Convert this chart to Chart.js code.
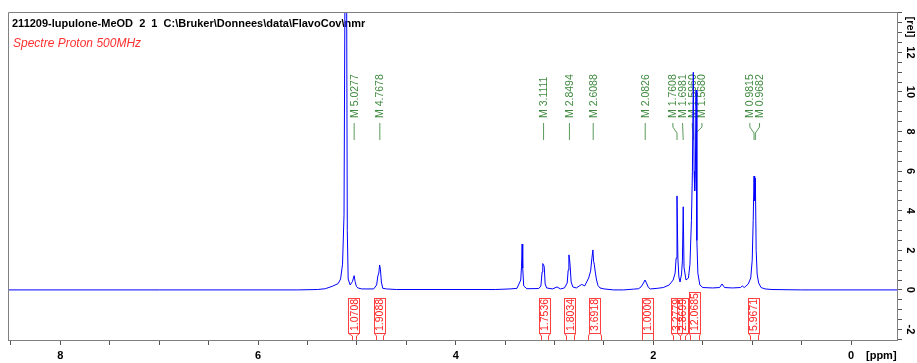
<!DOCTYPE html>
<html>
<head>
<meta charset="utf-8">
<script src="https://cdn.jsdelivr.net/npm/chart.js@4.4.1/dist/chart.umd.min.js"></script>
<style>
  html, body { margin: 0; padding: 0; background: #fff; }
  #wrap { width: 917px; height: 363px; position: relative; }
</style>
</head>
<body>
<div id="wrap"><canvas id="nmr"></canvas></div>
<script>
// spectrum (ppm, rel. intensity)
const shifts = [8.53, 7.0, 5.60, 5.40, 5.32, 5.25, 5.19, 5.165, 5.145, 5.13, 5.12, 5.112, 5.104, 5.097, 5.088,
    5.068, 5.045, 5.028, 5.018, 5.005, 4.99, 4.95, 4.83, 4.80, 4.788, 4.778, 4.770, 4.762, 4.752, 4.738,
    4.70, 4.60, 3.60, 3.45, 3.38, 3.342, 3.334, 3.328, 3.322, 3.312, 3.28, 3.16, 3.138, 3.126, 3.119,
    3.111, 3.104, 3.095, 3.08, 3.02, 2.975, 2.94, 2.90, 2.872, 2.862, 2.855, 2.849, 2.842, 2.832, 2.815,
    2.78, 2.725, 2.695, 2.675, 2.655, 2.635, 2.622, 2.612, 2.605, 2.598, 2.588, 2.575, 2.56, 2.54, 2.50,
    2.40, 2.30, 2.20, 2.15, 2.125, 2.10, 2.085, 2.07, 2.05, 2.03, 1.96, 1.90, 1.84, 1.80, 1.78,
    1.770, 1.761, 1.752, 1.742, 1.730, 1.715, 1.706, 1.698, 1.690, 1.670, 1.645, 1.630, 1.615, 1.605, 1.596,
    1.588, 1.582, 1.575, 1.568, 1.560, 1.550, 1.530, 1.50, 1.40, 1.33, 1.305, 1.28, 1.20, 1.12, 1.10,
    1.08, 1.04, 1.015, 1.000, 0.990, 0.9815, 0.975, 0.9682, 0.960, 0.950, 0.935, 0.91, 0.87, 0.80, 0.50, -0.465];
const intensities = [0, 0, 0, 0.02, 0.06, 0.18, 0.32, 0.55, 1.3, 3.8, 16, 22, 16, 3.0, 0.55,
    0.25, 0.42, 0.72, 0.42, 0.18, 0.1, 0.05, 0.05, 0.25, 0.7, 0.85, 1.26, 1.05, 0.4, 0.08,
    0.05, 0.02, 0.02, 0.05, 0.08, 0.5, 1.2, 2.32, 1.1, 0.2, 0.06, 0.07, 0.2, 0.9, 1.33,
    1.28, 1.15, 0.3, 0.1, 0.05, 0.15, 0.05, 0.1, 0.35, 1.0, 1.77, 1.6, 1.2, 0.4, 0.15,
    0.1, 0.28, 0.2, 0.4, 0.6, 0.95, 1.6, 2.02, 1.45, 1.3, 0.9, 0.5, 0.22, 0.1, 0.05,
    0, 0, 0.04, 0.06, 0.15, 0.35, 0.5, 0.35, 0.12, 0.05, 0.08, 0.12, 0.25, 0.5, 0.85,
    1.6, 4.75, 1.6, 0.65, 0.4, 0.8, 1.5, 4.2, 1.15, 0.5, 0.6, 1.3, 3.5, 6, 11.0,
    6, 5, 6, 10.1, 2.5, 0.85, 0.25, 0.12, 0.1, 0.12, 0.3, 0.12, 0.1, 0.12, 0.2,
    0.12, 0.3, 0.6, 1.5, 3.5, 5.75, 4.5, 5.65, 2.0, 0.8, 0.35, 0.12, 0.05, 0.02, 0, 0];

// peak picking labels
const peakShifts = [5.0277, 4.7678, 3.1111, 2.8494, 2.6088, 2.0826, 1.7608, 1.6981, 1.5960, 1.5680, 0.9815, 0.9682];

// integrals
const integralFrom = [5.048, 4.805, 3.136, 2.883, 2.661, 2.114, 1.800, 1.730, 1.629, 1.022];
const integralTo = [5.008, 4.735, 3.065, 2.802, 2.529, 2.003, 1.730, 1.680, 1.538, 0.941];
const integralValues = ['1.0708', '1.9088', '1.7536', '1.8034', '3.6918', '1.0000', '3.2779', '2.8699', '12.0685', '5.9671'];

const yLabels = [-2, 0, 2, 4, 6, 8, 10, 12];

const titleText = '211209-lupulone-MeOD  2  1  C:\\Bruker\\Donnees\\data\\FlavoCov\\nmr';
const subtitleText = 'Spectre Proton 500MHz';

const points = shifts.map((s, i) => ({x: s, y: intensities[i]}));

function rotText(ctx, text, x, y, angle) {
    ctx.save();
    ctx.translate(x, y);
    ctx.rotate(angle);
    ctx.fillText(text, 0, 0);
    ctx.restore();
}

// spread crowded peak labels around their centre
function spreadLabels(px, gap) {
    let groups = px.map((p, i) => ({idx: [i], c: p}));
    let merged = true;
    while (merged) {
        merged = false;
        for (let i = 0; i < groups.length - 1; i++) {
            const a = groups[i], b = groups[i + 1];
            const aRight = a.c + (a.idx.length - 1) / 2 * gap;
            const bLeft = b.c - (b.idx.length - 1) / 2 * gap;
            if (bLeft - aRight < gap) {
                const idx = a.idx.concat(b.idx);
                const c = idx.reduce((s, k) => s + px[k], 0) / idx.length;
                groups.splice(i, 2, {idx: idx, c: c});
                merged = true;
                break;
            }
        }
    }
    const out = [];
    groups.forEach(g => {
        g.idx.forEach((k, j) => {
            out[k] = g.c + (j - (g.idx.length - 1) / 2) * gap;
        });
    });
    return out;
}

const annotations = {
    id: 'annotations',
    beforeDatasetsDraw(chart) {
        const ctx = chart.ctx;
        const xs = chart.scales.x;
        const area = chart.chartArea;

        // titles
        ctx.save();
        ctx.fillStyle = '#000';
        ctx.font = 'bold 11px "Liberation Sans", Arial, sans-serif';
        ctx.textBaseline = 'alphabetic';
        ctx.fillText(titleText, 12, 26.5);
        ctx.fillStyle = '#ff3030';
        ctx.font = 'italic 12px "Liberation Sans", Arial, sans-serif';
        ctx.fillText(subtitleText, 13, 46.5);
        ctx.restore();

        // peak labels
        const peakPx = peakShifts.map(s => xs.getPixelForValue(s));
        const labelPx = spreadLabels(peakPx, 9.7);
        ctx.save();
        ctx.strokeStyle = '#5a9a5a';
        ctx.fillStyle = '#3f8a3f';
        ctx.lineWidth = 1;
        ctx.font = '10.5px "Liberation Sans", Arial, sans-serif';
        ctx.textBaseline = 'middle';
        ctx.textAlign = 'left';
        peakShifts.forEach((s, i) => {
            const lx = labelPx[i], px = peakPx[i];
            rotText(ctx, 'M ' + s.toFixed(4), lx + 0.5, 118, -Math.PI / 2);
            ctx.beginPath();
            ctx.moveTo(lx, 123);
            if (Math.abs(lx - px) > 1) {
                ctx.lineTo(lx, 127);
                ctx.lineTo(px, 133);
            }
            ctx.lineTo(px, 140);
            ctx.stroke();
        });
        ctx.restore();

        // integrals
        ctx.save();
        ctx.strokeStyle = '#ff4040';
        ctx.fillStyle = '#ff2020';
        ctx.lineWidth = 1;
        ctx.font = '10.5px "Liberation Sans", Arial, sans-serif';
        ctx.textBaseline = 'middle';
        ctx.textAlign = 'left';
        integralValues.forEach((v, i) => {
            const a = xs.getPixelForValue(integralFrom[i]);
            const b = xs.getPixelForValue(integralTo[i]);
            const cx = (a + b) / 2;
            const w = ctx.measureText(v).width;
            const top = 331 - w - 1;
            ctx.strokeRect(Math.round(cx - 6) + 0.5, Math.round(top) + 0.5, 11, 333 - Math.round(top));
            rotText(ctx, v, cx + 0.5, 331, -Math.PI / 2);
            ctx.beginPath();
            ctx.moveTo(Math.round(cx - 6) + 0.5, 333.5);
            ctx.lineTo(Math.round(a) + 0.5, 336);
            ctx.lineTo(Math.round(a) + 0.5, area.bottom);
            ctx.moveTo(Math.round(cx + 5) + 0.5, 333.5);
            ctx.lineTo(Math.round(b) + 0.5, 336);
            ctx.lineTo(Math.round(b) + 0.5, area.bottom);
            ctx.stroke();
        });
        ctx.restore();
    },
    afterDraw(chart) {
        const ctx = chart.ctx;
        const ys = chart.scales.y;
        const area = chart.chartArea;

        // frame (top and left, the scales draw the other two)
        ctx.save();
        ctx.strokeStyle = '#808080';
        ctx.lineWidth = 1;
        ctx.beginPath();
        ctx.moveTo(area.left + 0.5, area.bottom);
        ctx.lineTo(area.left + 0.5, area.top + 0.5);
        ctx.lineTo(area.right, area.top + 0.5);
        ctx.stroke();

        // rotated y labels
        ctx.fillStyle = '#000';
        ctx.font = 'bold 11px "Liberation Sans", Arial, sans-serif';
        ctx.textAlign = 'center';
        ctx.textBaseline = 'middle';
        yLabels.forEach(v => {
            rotText(ctx, String(v), 910, ys.getPixelForValue(v), Math.PI / 2);
        });
        rotText(ctx, '[rel]', 910, 27, Math.PI / 2);

        ctx.textAlign = 'left';
        ctx.fillText('[ppm]', 866, 356);
        ctx.restore();
    }
};

const ctx = document.getElementById('nmr').getContext('2d');
const chart = new Chart(ctx, {
    type: 'line',
    data: {
        datasets: [{
            data: points,
            borderColor: '#0000ff',
            borderWidth: 1,
            pointRadius: 0,
            tension: 0,
            fill: false
        }]
    },
    options: {
        responsive: true,
        maintainAspectRatio: false,
        animation: false,
        layout: { padding: { left: 8, top: 12, right: 0, bottom: 0 } },
        plugins: { legend: { display: false }, tooltip: { enabled: false } },
        scales: {
            x: {
                type: 'linear',
                reverse: true,
                min: -0.465,
                max: 8.53,
                grid: { drawOnChartArea: false, drawTicks: true, tickLength: 5, tickColor: '#555' },
                border: { display: true, color: '#808080' },
                ticks: {
                    stepSize: 0.5,
                    includeBounds: false,
                    autoSkip: false,
                    maxRotation: 0,
                    padding: 4,
                    color: '#000',
                    font: { family: '"Liberation Sans", Arial, sans-serif', size: 11, weight: 'bold' },
                    callback: v => (Math.abs(v % 2) < 1e-6 ? String(v) : '')
                },
                afterFit: s => { s.height = 23; }
            },
            y: {
                type: 'linear',
                position: 'right',
                min: -2.53,
                max: 14.04,
                grid: { drawOnChartArea: false, drawTicks: true, tickLength: 5, tickColor: '#555' },
                border: { display: true, color: '#808080' },
                ticks: { stepSize: 0.5, includeBounds: false, display: false },
                afterFit: s => { s.width = 20; }
            }
        }
    },
    plugins: [annotations]
});
</script>
</body>
</html>
